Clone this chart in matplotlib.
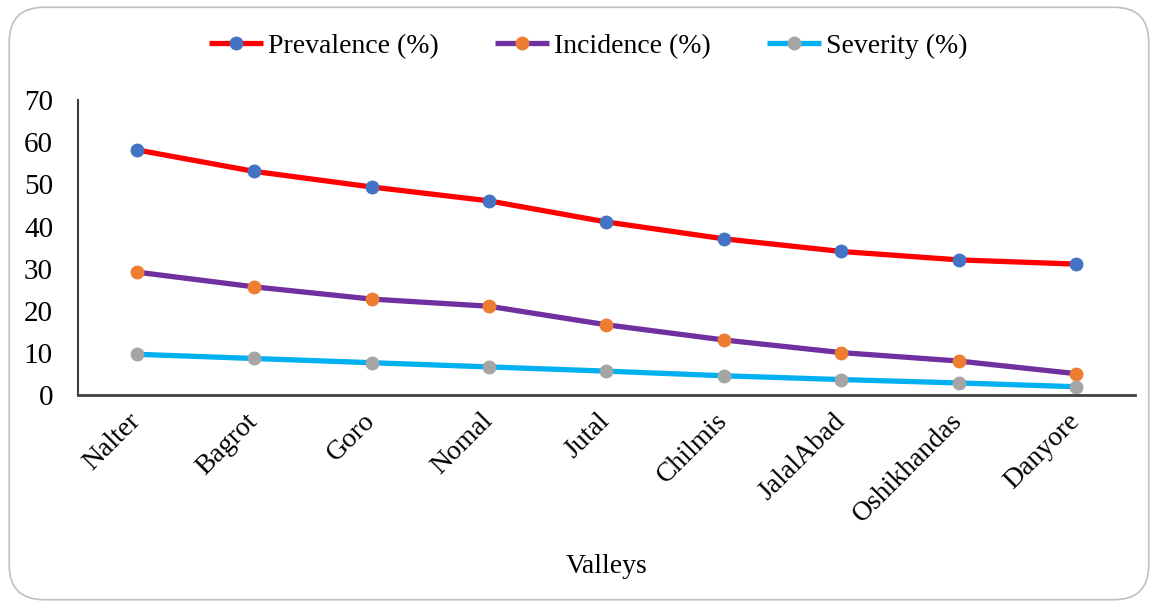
import matplotlib
matplotlib.use("Agg")
import matplotlib.pyplot as plt
from matplotlib.patches import FancyBboxPatch

valleys = ["Nalter", "Bagrot", "Goro", "Nomal", "Jutal", "Chilmis",
           "JalalAbad", "Oshikhandas", "Danyore"]
prevalence = [58.2, 53.1, 49.4, 46.1, 41.1, 37.1, 34.1, 32.1, 31.1]
incidence = [29.2, 25.7, 22.8, 21.1, 16.7, 13.1, 10.1, 8.1, 5.1]
severity = [9.7, 8.7, 7.7, 6.7, 5.7, 4.6, 3.7, 2.9, 2.0]

plt.rcParams["font.family"] = ["Liberation Serif", "DejaVu Serif"]

fig = plt.figure(figsize=(11.58, 6.07), dpi=100)
fig.patch.set_facecolor("white")

# rounded outer frame
frame = FancyBboxPatch((0.008, 0.012), 0.984, 0.976,
                       boxstyle="round,pad=0,rounding_size=0.03",
                       transform=fig.transFigure, facecolor="none",
                       edgecolor="#bfbfbf", linewidth=1.2, mutation_aspect=1.9)
fig.patches.append(frame)

ax = fig.add_axes([0.0674, 0.349, 0.9125, 0.486])
x = range(len(valleys))

series = [
    ("Prevalence (%)", prevalence, "#ff0000", "#4472c4"),
    ("Incidence (%)", incidence, "#7030a0", "#ed7d31"),
    ("Severity (%)", severity, "#00b0f0", "#a5a5a5"),
]
for label, vals, lc, mc in series:
    ax.plot(x, vals, color=lc, linewidth=3.8, marker="o", markersize=9,
            markerfacecolor=mc, markeredgecolor=mc, label=label,
            solid_capstyle="butt")

ax.set_xlim(-0.5, len(valleys) - 0.5)
ax.set_ylim(0, 70)
ax.set_yticks(range(0, 71, 10))
ax.set_xticks(list(x))
ax.set_xticklabels(valleys, rotation=45, ha="right", va="center",
                   rotation_mode="anchor", fontsize=20)
ax.tick_params(axis="y", labelsize=21, length=0, pad=18)
ax.tick_params(axis="x", length=0, pad=16)
ax.spines["top"].set_visible(False)
ax.spines["right"].set_visible(False)
ax.spines["left"].set_color("#404040")
ax.spines["bottom"].set_color("#404040")
ax.spines["left"].set_linewidth(1.5)
ax.spines["bottom"].set_linewidth(2)
ax.set_xlabel("Valleys", fontsize=20, labelpad=19)

fig.legend(loc="center", bbox_to_anchor=(0.508, 0.924), ncol=3, frameon=False,
           fontsize=20, handlelength=1.95, columnspacing=2.0, handletextpad=0.2)

fig.savefig("out.png", dpi=100, facecolor="white")
